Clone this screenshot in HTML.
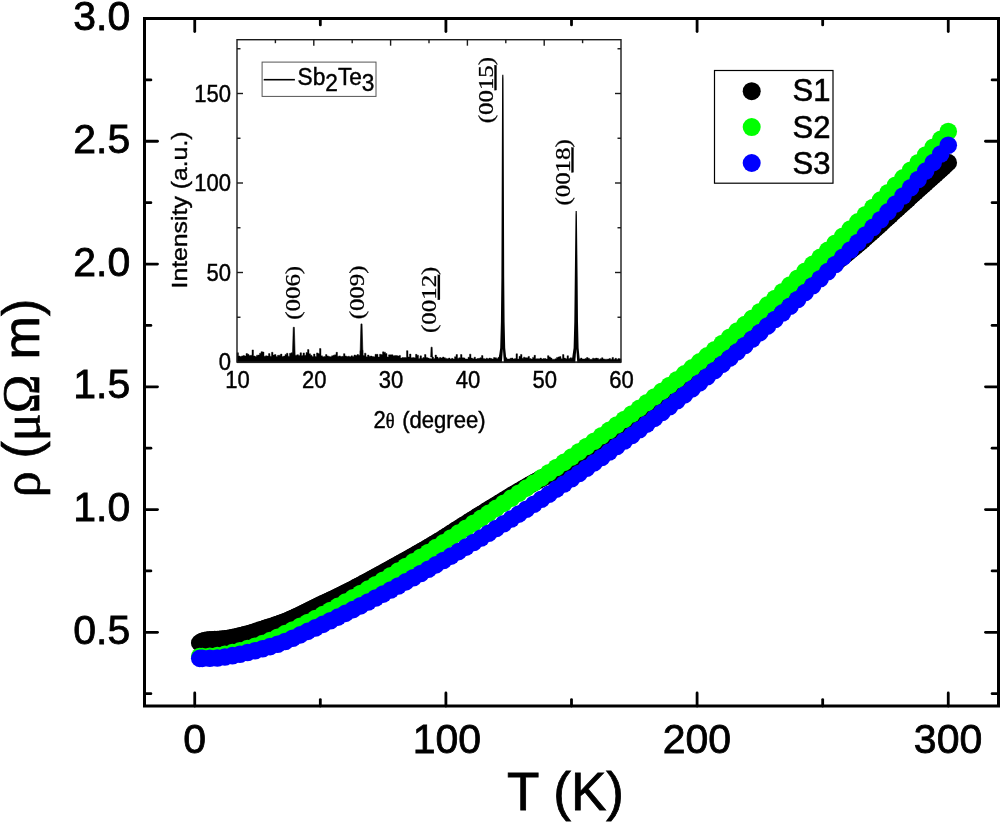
<!DOCTYPE html>
<html lang="en"><head><meta charset="utf-8"><title>Resistivity of Sb2Te3</title>
<style>html,body{margin:0;padding:0;background:#fff;}svg{display:block;}text{font-family:"Liberation Sans",Arial,sans-serif;fill:#000;}.ser{font-family:"Liberation Serif","Times New Roman",serif;}</style></head><body>
<svg width="1000" height="822" viewBox="0 0 1000 822">
<rect x="0" y="0" width="1000" height="822" fill="#fff"/>
<g fill="#000000">
<circle cx="199.76" cy="642.9" r="8.8"/><circle cx="202.27" cy="641.22" r="8.8"/><circle cx="204.78" cy="640.52" r="8.8"/><circle cx="207.29" cy="640.17" r="8.8"/><circle cx="209.81" cy="639.91" r="8.8"/><circle cx="212.32" cy="639.72" r="8.8"/><circle cx="214.83" cy="639.57" r="8.8"/><circle cx="217.34" cy="639.44" r="8.8"/><circle cx="219.85" cy="639.29" r="8.8"/><circle cx="222.36" cy="639.11" r="8.8"/><circle cx="224.88" cy="638.87" r="8.8"/><circle cx="227.39" cy="638.54" r="8.8"/><circle cx="229.9" cy="638.13" r="8.8"/><circle cx="232.41" cy="637.65" r="8.8"/><circle cx="234.92" cy="637.12" r="8.8"/><circle cx="237.44" cy="636.53" r="8.8"/><circle cx="239.95" cy="635.92" r="8.8"/><circle cx="242.46" cy="635.28" r="8.8"/><circle cx="244.97" cy="634.64" r="8.8"/><circle cx="247.48" cy="633.98" r="8.8"/><circle cx="249.99" cy="633.28" r="8.8"/><circle cx="252.51" cy="632.53" r="8.8"/><circle cx="255.02" cy="631.74" r="8.8"/><circle cx="257.53" cy="630.93" r="8.8"/><circle cx="260.04" cy="630.1" r="8.8"/><circle cx="262.55" cy="629.26" r="8.8"/><circle cx="265.06" cy="628.42" r="8.8"/><circle cx="267.58" cy="627.6" r="8.8"/><circle cx="270.09" cy="626.77" r="8.8"/><circle cx="272.6" cy="625.94" r="8.8"/><circle cx="275.11" cy="625.11" r="8.8"/><circle cx="277.62" cy="624.25" r="8.8"/><circle cx="280.14" cy="623.36" r="8.8"/><circle cx="282.65" cy="622.45" r="8.8"/><circle cx="285.16" cy="621.49" r="8.8"/><circle cx="287.67" cy="620.48" r="8.8"/><circle cx="290.18" cy="619.42" r="8.8"/><circle cx="292.69" cy="618.31" r="8.8"/><circle cx="295.21" cy="617.16" r="8.8"/><circle cx="297.72" cy="615.98" r="8.8"/><circle cx="300.23" cy="614.77" r="8.8"/><circle cx="302.74" cy="613.54" r="8.8"/><circle cx="305.25" cy="612.29" r="8.8"/><circle cx="307.76" cy="611.03" r="8.8"/><circle cx="310.28" cy="609.77" r="8.8"/><circle cx="312.79" cy="608.52" r="8.8"/><circle cx="315.3" cy="607.27" r="8.8"/><circle cx="317.81" cy="606.04" r="8.8"/><circle cx="320.32" cy="604.84" r="8.8"/><circle cx="322.84" cy="603.66" r="8.8"/><circle cx="325.35" cy="602.49" r="8.8"/><circle cx="327.86" cy="601.32" r="8.8"/><circle cx="330.37" cy="600.15" r="8.8"/><circle cx="332.88" cy="598.97" r="8.8"/><circle cx="335.39" cy="597.78" r="8.8"/><circle cx="337.91" cy="596.57" r="8.8"/><circle cx="340.42" cy="595.33" r="8.8"/><circle cx="342.93" cy="594.08" r="8.8"/><circle cx="345.44" cy="592.81" r="8.8"/><circle cx="347.95" cy="591.53" r="8.8"/><circle cx="350.46" cy="590.24" r="8.8"/><circle cx="352.98" cy="588.93" r="8.8"/><circle cx="355.49" cy="587.62" r="8.8"/><circle cx="358" cy="586.3" r="8.8"/><circle cx="360.51" cy="584.97" r="8.8"/><circle cx="363.02" cy="583.63" r="8.8"/><circle cx="365.54" cy="582.28" r="8.8"/><circle cx="368.05" cy="580.93" r="8.8"/><circle cx="370.56" cy="579.57" r="8.8"/><circle cx="373.07" cy="578.2" r="8.8"/><circle cx="375.58" cy="576.83" r="8.8"/><circle cx="378.09" cy="575.46" r="8.8"/><circle cx="380.61" cy="574.08" r="8.8"/><circle cx="383.12" cy="572.7" r="8.8"/><circle cx="385.63" cy="571.32" r="8.8"/><circle cx="388.14" cy="569.93" r="8.8"/><circle cx="390.65" cy="568.55" r="8.8"/><circle cx="393.16" cy="567.16" r="8.8"/><circle cx="395.68" cy="565.77" r="8.8"/><circle cx="398.19" cy="564.38" r="8.8"/><circle cx="400.7" cy="562.99" r="8.8"/><circle cx="403.21" cy="561.59" r="8.8"/><circle cx="405.72" cy="560.19" r="8.8"/><circle cx="408.24" cy="558.78" r="8.8"/><circle cx="410.75" cy="557.37" r="8.8"/><circle cx="413.26" cy="555.95" r="8.8"/><circle cx="415.77" cy="554.52" r="8.8"/><circle cx="418.28" cy="553.09" r="8.8"/><circle cx="420.79" cy="551.65" r="8.8"/><circle cx="423.31" cy="550.2" r="8.8"/><circle cx="425.82" cy="548.74" r="8.8"/><circle cx="428.33" cy="547.27" r="8.8"/><circle cx="430.84" cy="545.79" r="8.8"/><circle cx="433.35" cy="544.3" r="8.8"/><circle cx="435.86" cy="542.8" r="8.8"/><circle cx="438.38" cy="541.28" r="8.8"/><circle cx="440.89" cy="539.75" r="8.8"/><circle cx="443.4" cy="538.18" r="8.8"/><circle cx="445.91" cy="536.59" r="8.8"/><circle cx="448.42" cy="534.97" r="8.8"/><circle cx="450.94" cy="533.33" r="8.8"/><circle cx="453.45" cy="531.7" r="8.8"/><circle cx="455.96" cy="530.07" r="8.8"/><circle cx="458.47" cy="528.45" r="8.8"/><circle cx="460.98" cy="526.86" r="8.8"/><circle cx="463.49" cy="525.28" r="8.8"/><circle cx="466.01" cy="523.69" r="8.8"/><circle cx="468.52" cy="522.11" r="8.8"/><circle cx="471.03" cy="520.53" r="8.8"/><circle cx="473.54" cy="518.96" r="8.8"/><circle cx="476.05" cy="517.38" r="8.8"/><circle cx="478.56" cy="515.81" r="8.8"/><circle cx="481.08" cy="514.24" r="8.8"/><circle cx="483.59" cy="512.68" r="8.8"/><circle cx="486.1" cy="511.12" r="8.8"/><circle cx="488.61" cy="509.57" r="8.8"/><circle cx="491.12" cy="508.02" r="8.8"/><circle cx="493.64" cy="506.47" r="8.8"/><circle cx="496.15" cy="504.93" r="8.8"/><circle cx="498.66" cy="503.4" r="8.8"/><circle cx="501.17" cy="501.87" r="8.8"/><circle cx="503.68" cy="500.35" r="8.8"/><circle cx="506.19" cy="498.84" r="8.8"/><circle cx="508.71" cy="497.33" r="8.8"/><circle cx="511.22" cy="495.83" r="8.8"/><circle cx="513.73" cy="494.33" r="8.8"/><circle cx="516.24" cy="492.82" r="8.8"/><circle cx="518.75" cy="491.32" r="8.8"/><circle cx="521.26" cy="489.83" r="8.8"/><circle cx="523.78" cy="488.34" r="8.8"/><circle cx="526.29" cy="486.87" r="8.8"/><circle cx="528.8" cy="485.41" r="8.8"/><circle cx="531.31" cy="483.98" r="8.8"/><circle cx="533.82" cy="482.58" r="8.8"/><circle cx="536.34" cy="481.2" r="8.8"/><circle cx="538.85" cy="479.86" r="8.8"/><circle cx="541.36" cy="478.57" r="8.8"/><circle cx="543.87" cy="477.33" r="8.8"/><circle cx="546.38" cy="476.14" r="8.8"/><circle cx="548.89" cy="474.97" r="8.8"/><circle cx="551.41" cy="473.83" r="8.8"/><circle cx="553.92" cy="472.7" r="8.8"/><circle cx="556.43" cy="471.57" r="8.8"/><circle cx="558.94" cy="470.42" r="8.8"/><circle cx="561.45" cy="469.26" r="8.8"/><circle cx="563.96" cy="468.06" r="8.8"/><circle cx="566.48" cy="466.81" r="8.8"/><circle cx="568.99" cy="465.51" r="8.8"/><circle cx="571.5" cy="464.15" r="8.8"/><circle cx="574.01" cy="462.73" r="8.8"/><circle cx="576.52" cy="461.28" r="8.8"/><circle cx="579.04" cy="459.8" r="8.8"/><circle cx="581.55" cy="458.29" r="8.8"/><circle cx="584.06" cy="456.75" r="8.8"/><circle cx="586.57" cy="455.19" r="8.8"/><circle cx="589.08" cy="453.6" r="8.8"/><circle cx="591.59" cy="451.98" r="8.8"/><circle cx="594.11" cy="450.34" r="8.8"/><circle cx="596.62" cy="448.67" r="8.8"/><circle cx="599.13" cy="446.98" r="8.8"/><circle cx="601.64" cy="445.27" r="8.8"/><circle cx="604.15" cy="443.54" r="8.8"/><circle cx="606.66" cy="441.78" r="8.8"/><circle cx="609.18" cy="440.01" r="8.8"/><circle cx="611.69" cy="438.21" r="8.8"/><circle cx="614.2" cy="436.4" r="8.8"/><circle cx="616.71" cy="434.57" r="8.8"/><circle cx="619.22" cy="432.73" r="8.8"/><circle cx="621.74" cy="430.87" r="8.8"/><circle cx="624.25" cy="428.99" r="8.8"/><circle cx="626.76" cy="427.1" r="8.8"/><circle cx="629.27" cy="425.2" r="8.8"/><circle cx="631.78" cy="423.29" r="8.8"/><circle cx="634.29" cy="421.36" r="8.8"/><circle cx="636.81" cy="419.43" r="8.8"/><circle cx="639.32" cy="417.48" r="8.8"/><circle cx="641.83" cy="415.53" r="8.8"/><circle cx="644.34" cy="413.56" r="8.8"/><circle cx="646.85" cy="411.6" r="8.8"/><circle cx="649.36" cy="409.62" r="8.8"/><circle cx="651.88" cy="407.64" r="8.8"/><circle cx="654.39" cy="405.66" r="8.8"/><circle cx="656.9" cy="403.67" r="8.8"/><circle cx="659.41" cy="401.68" r="8.8"/><circle cx="661.92" cy="399.68" r="8.8"/><circle cx="664.44" cy="397.69" r="8.8"/><circle cx="666.95" cy="395.7" r="8.8"/><circle cx="669.46" cy="393.7" r="8.8"/><circle cx="671.97" cy="391.71" r="8.8"/><circle cx="674.48" cy="389.72" r="8.8"/><circle cx="676.99" cy="387.74" r="8.8"/><circle cx="679.51" cy="385.75" r="8.8"/><circle cx="682.02" cy="383.78" r="8.8"/><circle cx="684.53" cy="381.81" r="8.8"/><circle cx="687.04" cy="379.84" r="8.8"/><circle cx="689.55" cy="377.89" r="8.8"/><circle cx="692.06" cy="375.94" r="8.8"/><circle cx="694.58" cy="374" r="8.8"/><circle cx="697.09" cy="372.07" r="8.8"/><circle cx="699.6" cy="370.14" r="8.8"/><circle cx="702.11" cy="368.21" r="8.8"/><circle cx="704.62" cy="366.26" r="8.8"/><circle cx="707.14" cy="364.31" r="8.8"/><circle cx="709.65" cy="362.35" r="8.8"/><circle cx="712.16" cy="360.38" r="8.8"/><circle cx="714.67" cy="358.41" r="8.8"/><circle cx="717.18" cy="356.43" r="8.8"/><circle cx="719.69" cy="354.44" r="8.8"/><circle cx="722.21" cy="352.45" r="8.8"/><circle cx="724.72" cy="350.46" r="8.8"/><circle cx="727.23" cy="348.45" r="8.8"/><circle cx="729.74" cy="346.45" r="8.8"/><circle cx="732.25" cy="344.44" r="8.8"/><circle cx="734.76" cy="342.42" r="8.8"/><circle cx="737.28" cy="340.4" r="8.8"/><circle cx="739.79" cy="338.38" r="8.8"/><circle cx="742.3" cy="336.35" r="8.8"/><circle cx="744.81" cy="334.33" r="8.8"/><circle cx="747.32" cy="332.3" r="8.8"/><circle cx="749.84" cy="330.27" r="8.8"/><circle cx="752.35" cy="328.23" r="8.8"/><circle cx="754.86" cy="326.2" r="8.8"/><circle cx="757.37" cy="324.17" r="8.8"/><circle cx="759.88" cy="322.13" r="8.8"/><circle cx="762.39" cy="320.1" r="8.8"/><circle cx="764.91" cy="318.06" r="8.8"/><circle cx="767.42" cy="316.03" r="8.8"/><circle cx="769.93" cy="313.99" r="8.8"/><circle cx="772.44" cy="311.96" r="8.8"/><circle cx="774.95" cy="309.93" r="8.8"/><circle cx="777.46" cy="307.91" r="8.8"/><circle cx="779.98" cy="305.88" r="8.8"/><circle cx="782.49" cy="303.86" r="8.8"/><circle cx="785" cy="301.84" r="8.8"/><circle cx="787.51" cy="299.83" r="8.8"/><circle cx="790.02" cy="297.82" r="8.8"/><circle cx="792.54" cy="295.81" r="8.8"/><circle cx="795.05" cy="293.81" r="8.8"/><circle cx="797.56" cy="291.81" r="8.8"/><circle cx="800.07" cy="289.82" r="8.8"/><circle cx="802.58" cy="287.84" r="8.8"/><circle cx="805.09" cy="285.87" r="8.8"/><circle cx="807.61" cy="283.91" r="8.8"/><circle cx="810.12" cy="281.96" r="8.8"/><circle cx="812.63" cy="280.02" r="8.8"/><circle cx="815.14" cy="278.09" r="8.8"/><circle cx="817.65" cy="276.16" r="8.8"/><circle cx="820.16" cy="274.24" r="8.8"/><circle cx="822.68" cy="272.31" r="8.8"/><circle cx="825.19" cy="270.38" r="8.8"/><circle cx="827.7" cy="268.45" r="8.8"/><circle cx="830.21" cy="266.52" r="8.8"/><circle cx="832.72" cy="264.58" r="8.8"/><circle cx="835.24" cy="262.63" r="8.8"/><circle cx="837.75" cy="260.67" r="8.8"/><circle cx="840.26" cy="258.69" r="8.8"/><circle cx="842.77" cy="256.71" r="8.8"/><circle cx="845.28" cy="254.71" r="8.8"/><circle cx="847.79" cy="252.69" r="8.8"/><circle cx="850.31" cy="250.65" r="8.8"/><circle cx="852.82" cy="248.59" r="8.8"/><circle cx="855.33" cy="246.5" r="8.8"/><circle cx="857.84" cy="244.39" r="8.8"/><circle cx="860.35" cy="242.25" r="8.8"/><circle cx="862.86" cy="240.08" r="8.8"/><circle cx="865.38" cy="237.88" r="8.8"/><circle cx="867.89" cy="235.65" r="8.8"/><circle cx="870.4" cy="233.4" r="8.8"/><circle cx="872.91" cy="231.12" r="8.8"/><circle cx="875.42" cy="228.83" r="8.8"/><circle cx="877.94" cy="226.53" r="8.8"/><circle cx="880.45" cy="224.22" r="8.8"/><circle cx="882.96" cy="221.89" r="8.8"/><circle cx="885.47" cy="219.57" r="8.8"/><circle cx="887.98" cy="217.25" r="8.8"/><circle cx="890.49" cy="214.92" r="8.8"/><circle cx="893.01" cy="212.61" r="8.8"/><circle cx="895.52" cy="210.3" r="8.8"/><circle cx="898.03" cy="208.01" r="8.8"/><circle cx="900.54" cy="205.73" r="8.8"/><circle cx="903.05" cy="203.46" r="8.8"/><circle cx="905.56" cy="201.19" r="8.8"/><circle cx="908.08" cy="198.92" r="8.8"/><circle cx="910.59" cy="196.65" r="8.8"/><circle cx="913.1" cy="194.38" r="8.8"/><circle cx="915.61" cy="192.11" r="8.8"/><circle cx="918.12" cy="189.84" r="8.8"/><circle cx="920.64" cy="187.57" r="8.8"/><circle cx="923.15" cy="185.3" r="8.8"/><circle cx="925.66" cy="183.03" r="8.8"/><circle cx="928.17" cy="180.77" r="8.8"/><circle cx="930.68" cy="178.5" r="8.8"/><circle cx="933.19" cy="176.23" r="8.8"/><circle cx="935.71" cy="173.96" r="8.8"/><circle cx="938.22" cy="171.69" r="8.8"/><circle cx="940.73" cy="169.43" r="8.8"/><circle cx="943.24" cy="167.16" r="8.8"/><circle cx="945.75" cy="164.9" r="8.8"/><circle cx="948.26" cy="162.63" r="8.8"/>
</g>
<g fill="#00ff00">
<circle cx="199.76" cy="656.55" r="8.8"/><circle cx="202.27" cy="656.52" r="8.8"/><circle cx="209.81" cy="656.19" r="8.8"/><circle cx="217.34" cy="655.63" r="8.8"/><circle cx="224.88" cy="654.4" r="8.8"/><circle cx="232.41" cy="652.64" r="8.8"/><circle cx="239.95" cy="650.78" r="8.8"/><circle cx="247.48" cy="648.66" r="8.8"/><circle cx="255.02" cy="646.28" r="8.8"/><circle cx="262.55" cy="643.64" r="8.8"/><circle cx="270.09" cy="640.65" r="8.8"/><circle cx="277.62" cy="637.33" r="8.8"/><circle cx="285.16" cy="633.62" r="8.8"/><circle cx="292.69" cy="629.99" r="8.8"/><circle cx="300.23" cy="626.32" r="8.8"/><circle cx="307.76" cy="622.54" r="8.8"/><circle cx="315.3" cy="618.63" r="8.8"/><circle cx="322.84" cy="614.6" r="8.8"/><circle cx="330.37" cy="610.5" r="8.8"/><circle cx="337.91" cy="606.35" r="8.8"/><circle cx="345.44" cy="602.13" r="8.8"/><circle cx="352.98" cy="597.86" r="8.8"/><circle cx="360.51" cy="593.54" r="8.8"/><circle cx="368.05" cy="589.16" r="8.8"/><circle cx="375.58" cy="584.73" r="8.8"/><circle cx="383.12" cy="580.25" r="8.8"/><circle cx="390.65" cy="575.72" r="8.8"/><circle cx="398.19" cy="571.15" r="8.8"/><circle cx="405.72" cy="566.54" r="8.8"/><circle cx="413.26" cy="561.88" r="8.8"/><circle cx="420.79" cy="557.18" r="8.8"/><circle cx="428.33" cy="552.44" r="8.8"/><circle cx="435.86" cy="547.67" r="8.8"/><circle cx="443.4" cy="542.86" r="8.8"/><circle cx="450.94" cy="538.02" r="8.8"/><circle cx="458.47" cy="533.14" r="8.8"/><circle cx="466.01" cy="528.24" r="8.8"/><circle cx="473.54" cy="523.31" r="8.8"/><circle cx="481.08" cy="518.35" r="8.8"/><circle cx="488.61" cy="513.36" r="8.8"/><circle cx="496.15" cy="508.36" r="8.8"/><circle cx="503.68" cy="503.33" r="8.8"/><circle cx="511.22" cy="498.28" r="8.8"/><circle cx="518.75" cy="493.22" r="8.8"/><circle cx="526.29" cy="488.13" r="8.8"/><circle cx="533.82" cy="483.02" r="8.8"/><circle cx="541.36" cy="477.89" r="8.8"/><circle cx="548.89" cy="472.74" r="8.8"/><circle cx="556.43" cy="467.56" r="8.8"/><circle cx="563.96" cy="462.35" r="8.8"/><circle cx="571.5" cy="457.11" r="8.8"/><circle cx="579.04" cy="451.84" r="8.8"/><circle cx="586.57" cy="446.54" r="8.8"/><circle cx="594.11" cy="441.2" r="8.8"/><circle cx="601.64" cy="435.82" r="8.8"/><circle cx="609.18" cy="430.41" r="8.8"/><circle cx="616.71" cy="424.96" r="8.8"/><circle cx="624.25" cy="419.47" r="8.8"/><circle cx="631.78" cy="413.93" r="8.8"/><circle cx="639.32" cy="408.35" r="8.8"/><circle cx="646.85" cy="402.73" r="8.8"/><circle cx="654.39" cy="397.05" r="8.8"/><circle cx="661.92" cy="391.33" r="8.8"/><circle cx="669.46" cy="385.56" r="8.8"/><circle cx="676.99" cy="379.73" r="8.8"/><circle cx="684.53" cy="373.85" r="8.8"/><circle cx="692.06" cy="367.91" r="8.8"/><circle cx="699.6" cy="361.92" r="8.8"/><circle cx="707.14" cy="355.87" r="8.8"/><circle cx="714.67" cy="349.75" r="8.8"/><circle cx="722.21" cy="343.58" r="8.8"/><circle cx="729.74" cy="337.34" r="8.8"/><circle cx="737.28" cy="331.03" r="8.8"/><circle cx="744.81" cy="324.66" r="8.8"/><circle cx="752.35" cy="318.21" r="8.8"/><circle cx="759.88" cy="311.7" r="8.8"/><circle cx="767.42" cy="305.12" r="8.8"/><circle cx="774.95" cy="298.48" r="8.8"/><circle cx="782.49" cy="291.78" r="8.8"/><circle cx="790.02" cy="285.01" r="8.8"/><circle cx="797.56" cy="278.19" r="8.8"/><circle cx="805.09" cy="271.32" r="8.8"/><circle cx="812.63" cy="264.39" r="8.8"/><circle cx="820.16" cy="257.42" r="8.8"/><circle cx="827.7" cy="250.4" r="8.8"/><circle cx="835.24" cy="243.34" r="8.8"/><circle cx="842.77" cy="236.23" r="8.8"/><circle cx="850.31" cy="229.09" r="8.8"/><circle cx="857.84" cy="221.91" r="8.8"/><circle cx="865.38" cy="214.69" r="8.8"/><circle cx="872.91" cy="207.43" r="8.8"/><circle cx="880.45" cy="200.12" r="8.8"/><circle cx="887.98" cy="192.76" r="8.8"/><circle cx="895.52" cy="185.34" r="8.8"/><circle cx="903.05" cy="177.86" r="8.8"/><circle cx="910.59" cy="170.32" r="8.8"/><circle cx="918.12" cy="162.71" r="8.8"/><circle cx="925.66" cy="155.02" r="8.8"/><circle cx="933.19" cy="147.26" r="8.8"/><circle cx="940.73" cy="139.42" r="8.8"/><circle cx="948.26" cy="131.5" r="8.8"/>
</g>
<g fill="#0000ff">
<circle cx="199.76" cy="658.37" r="8.8"/><circle cx="202.27" cy="658.36" r="8.8"/><circle cx="209.81" cy="658.21" r="8.8"/><circle cx="217.34" cy="657.93" r="8.8"/><circle cx="224.88" cy="657.04" r="8.8"/><circle cx="232.41" cy="655.66" r="8.8"/><circle cx="239.95" cy="654.23" r="8.8"/><circle cx="247.48" cy="652.57" r="8.8"/><circle cx="255.02" cy="650.74" r="8.8"/><circle cx="262.55" cy="648.75" r="8.8"/><circle cx="270.09" cy="646.58" r="8.8"/><circle cx="277.62" cy="644.2" r="8.8"/><circle cx="285.16" cy="641.51" r="8.8"/><circle cx="292.69" cy="638.31" r="8.8"/><circle cx="300.23" cy="634.85" r="8.8"/><circle cx="307.76" cy="631.37" r="8.8"/><circle cx="315.3" cy="627.92" r="8.8"/><circle cx="322.84" cy="624.37" r="8.8"/><circle cx="330.37" cy="620.76" r="8.8"/><circle cx="337.91" cy="617.11" r="8.8"/><circle cx="345.44" cy="613.4" r="8.8"/><circle cx="352.98" cy="609.64" r="8.8"/><circle cx="360.51" cy="605.83" r="8.8"/><circle cx="368.05" cy="601.96" r="8.8"/><circle cx="375.58" cy="598.05" r="8.8"/><circle cx="383.12" cy="594.08" r="8.8"/><circle cx="390.65" cy="590.06" r="8.8"/><circle cx="398.19" cy="586" r="8.8"/><circle cx="405.72" cy="581.88" r="8.8"/><circle cx="413.26" cy="577.71" r="8.8"/><circle cx="420.79" cy="573.49" r="8.8"/><circle cx="428.33" cy="569.22" r="8.8"/><circle cx="435.86" cy="564.9" r="8.8"/><circle cx="443.4" cy="560.53" r="8.8"/><circle cx="450.94" cy="556.11" r="8.8"/><circle cx="458.47" cy="551.64" r="8.8"/><circle cx="466.01" cy="547.12" r="8.8"/><circle cx="473.54" cy="542.55" r="8.8"/><circle cx="481.08" cy="537.94" r="8.8"/><circle cx="488.61" cy="533.27" r="8.8"/><circle cx="496.15" cy="528.56" r="8.8"/><circle cx="503.68" cy="523.8" r="8.8"/><circle cx="511.22" cy="518.99" r="8.8"/><circle cx="518.75" cy="514.13" r="8.8"/><circle cx="526.29" cy="509.22" r="8.8"/><circle cx="533.82" cy="504.27" r="8.8"/><circle cx="541.36" cy="499.27" r="8.8"/><circle cx="548.89" cy="494.22" r="8.8"/><circle cx="556.43" cy="489.12" r="8.8"/><circle cx="563.96" cy="483.97" r="8.8"/><circle cx="571.5" cy="478.77" r="8.8"/><circle cx="579.04" cy="473.52" r="8.8"/><circle cx="586.57" cy="468.23" r="8.8"/><circle cx="594.11" cy="462.88" r="8.8"/><circle cx="601.64" cy="457.49" r="8.8"/><circle cx="609.18" cy="452.05" r="8.8"/><circle cx="616.71" cy="446.55" r="8.8"/><circle cx="624.25" cy="441.01" r="8.8"/><circle cx="631.78" cy="435.42" r="8.8"/><circle cx="639.32" cy="429.78" r="8.8"/><circle cx="646.85" cy="424.08" r="8.8"/><circle cx="654.39" cy="418.34" r="8.8"/><circle cx="661.92" cy="412.55" r="8.8"/><circle cx="669.46" cy="406.71" r="8.8"/><circle cx="676.99" cy="400.82" r="8.8"/><circle cx="684.53" cy="394.87" r="8.8"/><circle cx="692.06" cy="388.88" r="8.8"/><circle cx="699.6" cy="382.83" r="8.8"/><circle cx="707.14" cy="376.74" r="8.8"/><circle cx="714.67" cy="370.59" r="8.8"/><circle cx="722.21" cy="364.39" r="8.8"/><circle cx="729.74" cy="358.15" r="8.8"/><circle cx="737.28" cy="351.85" r="8.8"/><circle cx="744.81" cy="345.49" r="8.8"/><circle cx="752.35" cy="339.09" r="8.8"/><circle cx="759.88" cy="332.64" r="8.8"/><circle cx="767.42" cy="326.13" r="8.8"/><circle cx="774.95" cy="319.56" r="8.8"/><circle cx="782.49" cy="312.92" r="8.8"/><circle cx="790.02" cy="306.23" r="8.8"/><circle cx="797.56" cy="299.46" r="8.8"/><circle cx="805.09" cy="292.63" r="8.8"/><circle cx="812.63" cy="285.72" r="8.8"/><circle cx="820.16" cy="278.73" r="8.8"/><circle cx="827.7" cy="271.67" r="8.8"/><circle cx="835.24" cy="264.52" r="8.8"/><circle cx="842.77" cy="257.28" r="8.8"/><circle cx="850.31" cy="249.96" r="8.8"/><circle cx="857.84" cy="242.54" r="8.8"/><circle cx="865.38" cy="235.03" r="8.8"/><circle cx="872.91" cy="227.42" r="8.8"/><circle cx="880.45" cy="219.71" r="8.8"/><circle cx="887.98" cy="211.89" r="8.8"/><circle cx="895.52" cy="203.96" r="8.8"/><circle cx="903.05" cy="195.93" r="8.8"/><circle cx="910.59" cy="187.78" r="8.8"/><circle cx="918.12" cy="179.51" r="8.8"/><circle cx="925.66" cy="171.12" r="8.8"/><circle cx="933.19" cy="162.61" r="8.8"/><circle cx="940.73" cy="153.98" r="8.8"/><circle cx="948.26" cy="145.21" r="8.8"/>
</g>
<g stroke="#000" stroke-width="3" fill="none" stroke-linecap="butt">
<rect x="144.5" y="18.5" width="854" height="687.5"/>
</g>
<g stroke="#000" stroke-width="2.8" fill="none" stroke-linecap="round">
<line x1="194.74" y1="706" x2="194.74" y2="693"/>
<line x1="194.74" y1="18.5" x2="194.74" y2="31.5"/>
<line x1="320.32" y1="706" x2="320.32" y2="699.6"/>
<line x1="320.32" y1="18.5" x2="320.32" y2="24.9"/>
<line x1="445.91" y1="706" x2="445.91" y2="693"/>
<line x1="445.91" y1="18.5" x2="445.91" y2="31.5"/>
<line x1="571.5" y1="706" x2="571.5" y2="699.6"/>
<line x1="571.5" y1="18.5" x2="571.5" y2="24.9"/>
<line x1="697.09" y1="706" x2="697.09" y2="693"/>
<line x1="697.09" y1="18.5" x2="697.09" y2="31.5"/>
<line x1="822.68" y1="706" x2="822.68" y2="699.6"/>
<line x1="822.68" y1="18.5" x2="822.68" y2="24.9"/>
<line x1="948.26" y1="706" x2="948.26" y2="693"/>
<line x1="948.26" y1="18.5" x2="948.26" y2="31.5"/>
<line x1="144.5" y1="693.72" x2="150.9" y2="693.72"/>
<line x1="998.5" y1="693.72" x2="992.1" y2="693.72"/>
<line x1="144.5" y1="632.34" x2="157.5" y2="632.34"/>
<line x1="998.5" y1="632.34" x2="985.5" y2="632.34"/>
<line x1="144.5" y1="570.96" x2="150.9" y2="570.96"/>
<line x1="998.5" y1="570.96" x2="992.1" y2="570.96"/>
<line x1="144.5" y1="509.57" x2="157.5" y2="509.57"/>
<line x1="998.5" y1="509.57" x2="985.5" y2="509.57"/>
<line x1="144.5" y1="448.19" x2="150.9" y2="448.19"/>
<line x1="998.5" y1="448.19" x2="992.1" y2="448.19"/>
<line x1="144.5" y1="386.8" x2="157.5" y2="386.8"/>
<line x1="998.5" y1="386.8" x2="985.5" y2="386.8"/>
<line x1="144.5" y1="325.42" x2="150.9" y2="325.42"/>
<line x1="998.5" y1="325.42" x2="992.1" y2="325.42"/>
<line x1="144.5" y1="264.04" x2="157.5" y2="264.04"/>
<line x1="998.5" y1="264.04" x2="985.5" y2="264.04"/>
<line x1="144.5" y1="202.65" x2="150.9" y2="202.65"/>
<line x1="998.5" y1="202.65" x2="992.1" y2="202.65"/>
<line x1="144.5" y1="141.27" x2="157.5" y2="141.27"/>
<line x1="998.5" y1="141.27" x2="985.5" y2="141.27"/>
<line x1="144.5" y1="79.88" x2="150.9" y2="79.88"/>
<line x1="998.5" y1="79.88" x2="992.1" y2="79.88"/>
</g>
<g font-size="41" text-anchor="middle" stroke="#000" stroke-width="0.8">
<text x="194.54" y="753.3">0</text>
<text x="446.91" y="753.3">100</text>
<text x="696.89" y="753.3">200</text>
<text x="948.06" y="753.3">300</text>
</g>
<g font-size="41" text-anchor="end" stroke="#000" stroke-width="0.8">
<text x="130.3" y="643.84">0.5</text>
<text x="130.3" y="521.07">1.0</text>
<text x="130.3" y="398.3">1.5</text>
<text x="130.3" y="275.54">2.0</text>
<text x="130.3" y="152.77">2.5</text>
<text x="130.3" y="30">3.0</text>
</g>
<text x="565.5" y="810.4" font-size="53" text-anchor="middle" stroke="#000" stroke-width="0.8">T (K)</text>
<text transform="translate(39,398) rotate(-90)" font-size="52" text-anchor="middle" stroke="#000" stroke-width="0.7"><tspan class="ser">ρ</tspan><tspan dx="-1.6"> (</tspan><tspan class="ser">μΩ</tspan><tspan dx="0.8"> m)</tspan></text>
<rect x="714.5" y="70.5" width="118.5" height="112.7" fill="#fff" stroke="#000" stroke-width="1.2"/>
<circle cx="751.7" cy="91.2" r="9" fill="#000000"/>
<text x="792.6" y="101.4" font-size="31" stroke="#000" stroke-width="0.6">S1</text>
<circle cx="751.7" cy="127.1" r="9" fill="#00ff00"/>
<text x="792.6" y="137.6" font-size="31" stroke="#000" stroke-width="0.6">S2</text>
<circle cx="751.7" cy="163" r="9" fill="#0000ff"/>
<text x="792.6" y="173.8" font-size="31" stroke="#000" stroke-width="0.6">S3</text>
<rect x="237" y="39.7" width="384" height="322.3" fill="#fff" stroke="none"/>
<path d="M237 362.7L237 352.72 L238.5 352.72L238.5 355.99 L240 355.99L240 356.62 L241.5 356.62L241.5 355.93 L243 355.93L243 355.45 L244.5 355.45L244.5 355.95 L246 355.95L246 353.52 L247.5 353.52L247.5 354.29 L249 354.29L249 355.61 L250.5 355.61L250.5 355.28 L252 355.28L252 349.91 L253.5 349.91L253.5 355.94 L255 355.94L255 356.61 L256.5 356.61L256.5 355.17 L258 355.17L258 355.08 L259.5 355.08L259.5 353.26 L261 353.26L261 351.64 L262.5 351.64L262.5 352.07 L264 352.07L264 356.29 L265.5 356.29L265.5 355.87 L267 355.87L267 356.06 L268.5 356.06L268.5 353.62 L270 353.62L270 356.2 L271.5 356.2L271.5 352.29 L273 352.29L273 355.08 L274.5 355.08L274.5 354.51 L276 354.51L276 356.4 L277.5 356.4L277.5 355.27 L279 355.27L279 355.2 L280.5 355.2L280.5 354.08 L282 354.08L282 356.51 L283.5 356.51L283.5 356.08 L285 356.08L285 354.42 L286.5 354.42L286.5 353.29 L288 353.29L288 356.15 L289.5 356.15L289.5 353.33 L291 353.33L291 352.75 L292.5 352.75L292.5 354.31 L294 354.31L294 355.65 L295.5 355.65L295.5 355.17 L297 355.17L297 354.73 L298.5 354.73L298.5 355.48 L300 355.48L300 352.77 L301.5 352.77L301.5 355.43 L303 355.43L303 352.93 L304.5 352.93L304.5 355.21 L306 355.21L306 352.49 L307.5 352.49L307.5 349.6 L309 349.6L309 353.77 L310.5 353.77L310.5 355.17 L312 355.17L312 356.55 L313.5 356.55L313.5 354.04 L315 354.04L315 356.5 L316.5 356.5L316.5 352.89 L318 352.89L318 353.43 L319.5 353.43L319.5 348.54 L321 348.54L321 355.87 L322.5 355.87L322.5 356.76 L324 356.76L324 356.53 L325.5 356.53L325.5 354.62 L327 354.62L327 355.89 L328.5 355.89L328.5 356.46 L330 356.46L330 356.67 L331.5 356.67L331.5 355.84 L333 355.84L333 355.29 L334.5 355.29L334.5 354.85 L336 354.85L336 352.32 L337.5 352.32L337.5 356.25 L339 356.25L339 355.92 L340.5 355.92L340.5 356.59 L342 356.59L342 356.36 L343.5 356.36L343.5 353.63 L345 353.63L345 355.91 L346.5 355.91L346.5 356.61 L348 356.61L348 356.21 L349.5 356.21L349.5 356.65 L351 356.65L351 355.85 L352.5 355.85L352.5 356.4 L354 356.4L354 354.96 L355.5 354.96L355.5 355.53 L357 355.53L357 354.51 L358.5 354.51L358.5 355.28 L360 355.28L360 350.76 L361.5 350.76L361.5 350.27 L363 350.27L363 355.6 L364.5 355.6L364.5 353.17 L366 353.17L366 356.84 L367.5 356.84L367.5 355.05 L369 355.05L369 356.25 L370.5 356.25L370.5 356.07 L372 356.07L372 356.57 L373.5 356.57L373.5 356.81 L375 356.81L375 354.34 L376.5 354.34L376.5 354.34 L378 354.34L378 357.12 L379.5 357.12L379.5 354.29 L381 354.29L381 354.55 L382.5 354.55L382.5 351.87 L384 351.87L384 352.16 L385.5 352.16L385.5 353.54 L387 353.54L387 356.9 L388.5 356.9L388.5 354.87 L390 354.87L390 354.83 L391.5 354.83L391.5 354.73 L393 354.73L393 355.76 L394.5 355.76L394.5 355.46 L396 355.46L396 355.57 L397.5 355.57L397.5 356.03 L399 356.03L399 355.44 L400.5 355.44L400.5 358.03 L402 358.03L402 357.54 L403.5 357.54L403.5 357.58 L405 357.58L405 357.53 L406.5 357.53L406.5 350.63 L408 350.63L408 356.98 L409.5 356.98L409.5 354.07 L411 354.07L411 357.63 L412.5 357.63L412.5 357.6 L414 357.6L414 357.67 L415.5 357.67L415.5 354.36 L417 354.36L417 355.18 L418.5 355.18L418.5 358.38 L420 358.38L420 355.87 L421.5 355.87L421.5 358.23 L423 358.23L423 357.5 L424.5 357.5L424.5 354.52 L426 354.52L426 357.45 L427.5 357.45L427.5 358.11 L429 358.11L429 358.39 L430.5 358.39L430.5 358.69 L432 358.69L432 357.02 L433.5 357.02L433.5 358.61 L435 358.61L435 355.06 L436.5 355.06L436.5 357.04 L438 357.04L438 358.18 L439.5 358.18L439.5 357.53 L441 357.53L441 358.01 L442.5 358.01L442.5 357.07 L444 357.07L444 357.84 L445.5 357.84L445.5 358.38 L447 358.38L447 358.7 L448.5 358.7L448.5 358.04 L450 358.04L450 358.9 L451.5 358.9L451.5 358.35 L453 358.35L453 358.96 L454.5 358.96L454.5 356.74 L456 356.74L456 354.58 L457.5 354.58L457.5 358.14 L459 358.14L459 357.79 L460.5 357.79L460.5 354.54 L462 354.54L462 357.64 L463.5 357.64L463.5 357.88 L465 357.88L465 358.9 L466.5 358.9L466.5 358.99 L468 358.99L468 357.24 L469.5 357.24L469.5 354.14 L471 354.14L471 358.11 L472.5 358.11L472.5 358.73 L474 358.73L474 357.19 L475.5 357.19L475.5 358.9 L477 358.9L477 358.56 L478.5 358.56L478.5 358.36 L480 358.36L480 357.69 L481.5 357.69L481.5 355.62 L483 355.62L483 358.44 L484.5 358.44L484.5 358.92 L486 358.92L486 358.2 L487.5 358.2L487.5 358.76 L489 358.76L489 358.1 L490.5 358.1L490.5 358.54 L492 358.54L492 358.93 L493.5 358.93L493.5 357.59 L495 357.59L495 357.71 L496.5 357.71L496.5 358.43 L498 358.43L498 357.26 L499.5 357.26L499.5 355.05 L501 355.05L501 357.83 L502.5 357.83L502.5 355.73 L504 355.73L504 358.59 L505.5 358.59L505.5 357.8 L507 357.8L507 359.1 L508.5 359.1L508.5 358.93 L510 358.93L510 358.27 L511.5 358.27L511.5 358.01 L513 358.01L513 359.09 L514.5 359.09L514.5 358.62 L516 358.62L516 353.81 L517.5 353.81L517.5 359.06 L519 359.06L519 356.37 L520.5 356.37L520.5 354.44 L522 354.44L522 358.29 L523.5 358.29L523.5 357.17 L525 357.17L525 357.71 L526.5 357.71L526.5 357.84 L528 357.84L528 356.45 L529.5 356.45L529.5 358.57 L531 358.57L531 358.93 L532.5 358.93L532.5 357.38 L534 357.38L534 355.35 L535.5 355.35L535.5 358.8 L537 358.8L537 358.67 L538.5 358.67L538.5 358.82 L540 358.82L540 358.05 L541.5 358.05L541.5 359.06 L543 359.06L543 358.55 L544.5 358.55L544.5 358.6 L546 358.6L546 359.1 L547.5 359.1L547.5 355.64 L549 355.64L549 356.97 L550.5 356.97L550.5 358.1 L552 358.1L552 359.25 L553.5 359.25L553.5 359.24 L555 359.24L555 358.73 L556.5 358.73L556.5 357.45 L558 357.45L558 356.9 L559.5 356.9L559.5 356.6 L561 356.6L561 358.7 L562.5 358.7L562.5 354.59 L564 354.59L564 358.1 L565.5 358.1L565.5 358.66 L567 358.66L567 355.78 L568.5 355.78L568.5 358.6 L570 358.6L570 357.79 L571.5 357.79L571.5 358.16 L573 358.16L573 359.32 L574.5 359.32L574.5 358.95 L576 358.95L576 358.7 L577.5 358.7L577.5 358.51 L579 358.51L579 358.97 L580.5 358.97L580.5 358.09 L582 358.09L582 358.99 L583.5 358.99L583.5 359.07 L585 359.07L585 358.47 L586.5 358.47L586.5 357.53 L588 357.53L588 358.28 L589.5 358.28L589.5 359.35 L591 359.35L591 359.27 L592.5 359.27L592.5 358.2 L594 358.2L594 358.58 L595.5 358.58L595.5 358.11 L597 358.11L597 358.36 L598.5 358.36L598.5 359.28 L600 359.28L600 358.66 L601.5 358.66L601.5 357.76 L603 357.76L603 358.94 L604.5 358.94L604.5 359.2 L606 359.2L606 359.17 L607.5 359.17L607.5 359.12 L609 359.12L609 358.47 L610.5 358.47L610.5 359.24 L612 359.24L612 357.46 L613.5 357.46L613.5 359.27 L615 359.27L615 358.29 L616.5 358.29L616.5 359.21 L618 359.21L618 358.59 L619.5 358.59L619.5 358.86 L621 358.86L621 362.7 Z" fill="#000" stroke="#000" stroke-width="0.4" stroke-linejoin="round"/>
<path d="M292.4 357 L293.25 327.3 L294.35 327.3 L295.2 357 Z" fill="#000" stroke="#000" stroke-width="0.6"/>
<path d="M360 357 L360.95 323.9 L362.05 323.9 L363 357 Z" fill="#000" stroke="#000" stroke-width="0.6"/>
<path d="M430.7 357 L431.05 347.2 L432.15 347.2 L432.5 357 Z" fill="#000" stroke="#000" stroke-width="0.6"/>
<path d="M498.2 362 L499.2 355 L500.2 348 L500.9 322 L501.4 277 L502.1 78.8 L502.25 74.8 L503.35 74.8 L503.5 78.8 L504.2 277 L504.6 322 L505.2 348 L506 356 L506.6 362 Z" fill="#000"/>
<path d="M501.85 362.2 L502.9 349 L503.85 362.2 Z" fill="#fff"/>
<path d="M571.6 362 L572.6 355 L573.6 348 L574.3 322 L574.8 277 L575.5 215 L575.65 211 L576.75 211 L576.9 215 L577.6 277 L578 322 L578.6 348 L579.4 356 L580 362 Z" fill="#000"/>
<path d="M575.25 362.2 L576.3 349 L577.25 362.2 Z" fill="#fff"/>
<g stroke="#1a1a1a" stroke-width="1.4" fill="none">
<rect x="237" y="39.7" width="384" height="322.3"/>
<line x1="275.4" y1="39.7" x2="275.4" y2="43.2"/>
<line x1="313.8" y1="39.7" x2="313.8" y2="45.7"/>
<line x1="352.2" y1="39.7" x2="352.2" y2="43.2"/>
<line x1="390.6" y1="39.7" x2="390.6" y2="45.7"/>
<line x1="429" y1="39.7" x2="429" y2="43.2"/>
<line x1="467.4" y1="39.7" x2="467.4" y2="45.7"/>
<line x1="505.8" y1="39.7" x2="505.8" y2="43.2"/>
<line x1="544.2" y1="39.7" x2="544.2" y2="45.7"/>
<line x1="582.6" y1="39.7" x2="582.6" y2="43.2"/>
<line x1="237" y1="317.25" x2="240.5" y2="317.25"/>
<line x1="621" y1="317.25" x2="617.5" y2="317.25"/>
<line x1="237" y1="272.5" x2="243" y2="272.5"/>
<line x1="621" y1="272.5" x2="615" y2="272.5"/>
<line x1="237" y1="227.75" x2="240.5" y2="227.75"/>
<line x1="621" y1="227.75" x2="617.5" y2="227.75"/>
<line x1="237" y1="183" x2="243" y2="183"/>
<line x1="621" y1="183" x2="615" y2="183"/>
<line x1="237" y1="138.25" x2="240.5" y2="138.25"/>
<line x1="621" y1="138.25" x2="617.5" y2="138.25"/>
<line x1="237" y1="93.5" x2="243" y2="93.5"/>
<line x1="621" y1="93.5" x2="615" y2="93.5"/>
<line x1="237" y1="48.75" x2="240.5" y2="48.75"/>
<line x1="621" y1="48.75" x2="617.5" y2="48.75"/>
</g>
<text transform="translate(237.5,388.2) scale(0.9,1)" font-size="24.5" text-anchor="middle" stroke="#000" stroke-width="0.45">10</text>
<text transform="translate(314.3,388.2) scale(0.9,1)" font-size="24.5" text-anchor="middle" stroke="#000" stroke-width="0.45">20</text>
<text transform="translate(391.1,388.2) scale(0.9,1)" font-size="24.5" text-anchor="middle" stroke="#000" stroke-width="0.45">30</text>
<text transform="translate(467.9,388.2) scale(0.9,1)" font-size="24.5" text-anchor="middle" stroke="#000" stroke-width="0.45">40</text>
<text transform="translate(544.7,388.2) scale(0.9,1)" font-size="24.5" text-anchor="middle" stroke="#000" stroke-width="0.45">50</text>
<text transform="translate(621.5,388.2) scale(0.9,1)" font-size="24.5" text-anchor="middle" stroke="#000" stroke-width="0.45">60</text>
<text transform="translate(231,370) scale(0.9,1)" font-size="24.5" text-anchor="end" stroke="#000" stroke-width="0.45">0</text>
<text transform="translate(231,280.5) scale(0.9,1)" font-size="24.5" text-anchor="end" stroke="#000" stroke-width="0.45">50</text>
<text transform="translate(231,191) scale(0.9,1)" font-size="24.5" text-anchor="end" stroke="#000" stroke-width="0.45">100</text>
<text transform="translate(231,101.5) scale(0.9,1)" font-size="24.5" text-anchor="end" stroke="#000" stroke-width="0.45">150</text>
<text transform="translate(429.5,428.2) scale(0.9,1)" font-size="24.5" text-anchor="middle" stroke="#000" stroke-width="0.45">2<tspan class="ser" font-size="20.5">θ</tspan><tspan dx="1.6"> (degree)</tspan></text>
<text transform="translate(186.6,210) scale(0.9,1) rotate(-90)" font-size="24.8" text-anchor="middle" stroke="#000" stroke-width="0.45">Intensity (a.u.)</text>
<rect x="262.1" y="62.1" width="113.9" height="34.3" fill="#fff" stroke="#555" stroke-width="1"/>
<line x1="263.7" y1="79.7" x2="294.9" y2="79.7" stroke="#000" stroke-width="1.6"/>
<text transform="translate(297.6,84.9) scale(0.925,1)" font-size="24.5" stroke="#000" stroke-width="0.45">Sb<tspan dy="6">2</tspan><tspan dy="-6">Te</tspan><tspan dy="6">3</tspan></text>
<text class="ser" transform="translate(300,292.8) scale(0.85,1) rotate(-90)" font-size="24.9" text-anchor="middle" stroke="#000" stroke-width="0.3">(006)</text>
<text class="ser" transform="translate(364.2,292.4) scale(0.85,1) rotate(-90)" font-size="24.9" text-anchor="middle" stroke="#000" stroke-width="0.3">(009)</text>
<text class="ser" transform="translate(436,299.8) scale(0.85,1) rotate(-90)" font-size="24.9" text-anchor="middle" stroke="#000" stroke-width="0.3">(00<tspan text-decoration="underline">12</tspan>)</text>
<text class="ser" transform="translate(492.6,90.1) scale(0.85,1) rotate(-90)" font-size="24.9" text-anchor="middle" stroke="#000" stroke-width="0.3">(00<tspan text-decoration="underline">15</tspan>)</text>
<text class="ser" transform="translate(569.6,172.4) scale(0.85,1) rotate(-90)" font-size="24.9" text-anchor="middle" stroke="#000" stroke-width="0.3">(00<tspan text-decoration="underline">18</tspan>)</text>
</svg></body></html>
